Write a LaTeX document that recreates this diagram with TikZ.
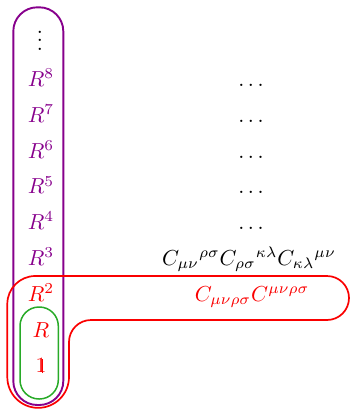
\documentclass[tikz,border=0pt]{standalone}
\definecolor{pur}{RGB}{135,0,140}
\definecolor{grn}{RGB}{40,170,40}
\definecolor{rd}{RGB}{250,0,0}
\newcommand{\unitone}{\rlap{$\mathrm{1}$}\kern0.315em\rule{0.035em}{0.64em}\kern0.15em}
\begin{document}
\begin{tikzpicture}[x=1pt,y=-1pt,
  lab/.style={anchor=base,inner sep=0pt,scale=2.17},
  pl/.style={lab,text=pur},
  rl/.style={lab,text=rd}]
\useasboundingbox (0,0) rectangle (350,410);
% purple box
\draw[pur,line width=1.9pt,rounded corners=24] (13.3,7.3) rectangle (63.3,405);
% green box
\draw[grn,line width=1.5pt,rounded corners=19] (20,307) rectangle (58.3,399);
% red shape
\draw[rd,line width=1.7pt] (35.3,276) -- (327,276) arc[start angle=-90,end angle=90,radius=22]
  -- (91,320) arc[start angle=-90,end angle=-180,radius=22]
  -- (69,377) arc[start angle=0,end angle=180,radius=30.85]
  -- (7.3,304) arc[start angle=180,end angle=270,radius=28] -- cycle;
% left column
\node[lab] (v) at (40,50.5) {$\vdots$};
\node[pl] (r8) at (41,86.5) {$R^8$};
\node[pl] (r7) at (41,122.3) {$R^7$};
\node[pl] (r6) at (41,158.1) {$R^6$};
\node[pl] (r5) at (41,193.9) {$R^5$};
\node[pl] (r4) at (41,229.7) {$R^4$};
\node[pl] (r3) at (41,265.5) {$R^3$};
\node[rl] (r2) at (41,301.3) {$R^2$};
\node[rl] (r1) at (41,337.1) {$R$};
\node[rl] (r0) at (41,372.9) {\unitone};
% right column
\node[lab] (d8) at (251,86.5) {$\dots$};
\node[lab] (d7) at (251,122.3) {$\dots$};
\node[lab] (d6) at (251,158.1) {$\dots$};
\node[lab] (d5) at (251,193.9) {$\dots$};
\node[lab] (d4) at (251,229.7) {$\dots$};
\node[lab] (c3) at (249,265.5) {$C_{\mu\nu}{}^{\rho\sigma}C_{\rho\sigma}{}^{\kappa\lambda}C_{\kappa\lambda}{}^{\mu\nu}$};
\node[rl] (c2) at (252,301.3) {$C_{\mu\nu\rho\sigma}C^{\mu\nu\rho\sigma}$};
\end{tikzpicture}
\end{document}
